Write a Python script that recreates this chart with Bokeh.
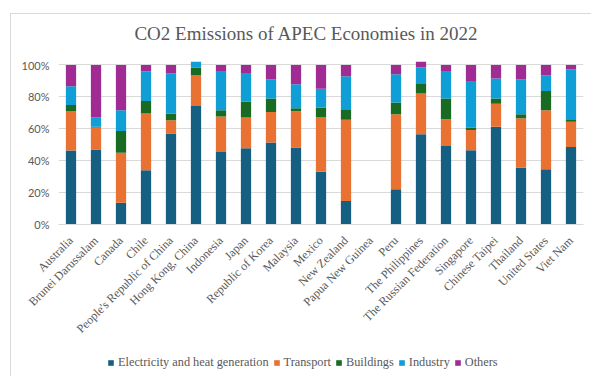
from bokeh.plotting import figure
from bokeh.models import (ColumnDataSource, FactorRange, Range1d, FixedTicker,
                          PrintfTickFormatter, Legend, LegendItem, Label)
from bokeh.layouts import column
from bokeh.embed import file_html
from bokeh.resources import INLINE
import math

categories = ["Australia", "Brunei Darussalam", "Canada", "Chile",
              "People's Republic of China", "Hong Kong, China", "Indonesia", "Japan",
              "Republic of Korea", "Malaysia", "Mexico", "New Zealand",
              "Papua New Guinea", "Peru", "The Philippines", "The Russian Federation",
              "Singapore", "Chinese Taipei", "Thailand", "United States", "Viet Nam"]

electricity = [46.3, 47.0, 13.7, 34.0, 57.0, 74.3, 45.5, 47.8, 51.3, 48.2, 33.1,
               14.7, 0.0, 22.1, 56.6, 49.2, 46.5, 61.3, 35.6, 34.6, 48.6]
transport = [24.8, 13.7, 31.3, 35.5, 8.3, 19.4, 22.1, 19.2, 19.2, 22.8, 34.3,
             51.0, 0.0, 47.0, 25.4, 16.8, 12.7, 14.4, 31.0, 37.0, 15.7]
buildings = [3.7, 0.6, 13.6, 7.9, 4.2, 4.6, 4.0, 10.0, 8.4, 1.9, 5.8,
             6.5, 0.0, 7.3, 6.5, 12.9, 1.5, 3.2, 2.5, 12.1, 1.7]
industry = [11.8, 5.9, 13.0, 18.4, 25.3, 3.7, 24.6, 17.5, 11.9, 15.0, 11.9,
            20.7, 0.0, 17.8, 9.8, 17.3, 28.8, 12.5, 21.9, 9.8, 31.3]
others = [13.4, 32.8, 28.4, 4.2, 5.2, 0.0, 3.8, 5.5, 9.2, 12.1, 14.9,
          7.1, 0.0, 5.8, 3.6, 3.8, 10.5, 8.6, 9.0, 6.5, 2.7]

series_names = ["Electricity and heat generation", "Transport", "Buildings", "Industry", "Others"]
series_keys = ["electricity", "transport", "buildings", "industry", "others"]
colors = ["#156082", "#E97132", "#196B24", "#0F9ED5", "#A02B93"]
y_ticks = [0, 20, 40, 60, 80, 100]
title_text = "CO2 Emissions of APEC Economies in 2022"

source = ColumnDataSource(dict(categories=categories, electricity=electricity,
                               transport=transport, buildings=buildings,
                               industry=industry, others=others))


def strip(height):
    f = figure(width=580, height=height, output_backend="svg", toolbar_location=None,
               x_axis_type=None, y_axis_type=None,
               x_range=Range1d(0, 1), y_range=Range1d(0, 1),
               min_border_left=47, min_border_right=8, min_border_top=0, min_border_bottom=0)
    f.outline_line_color = None
    f.xgrid.grid_line_color = None
    f.ygrid.grid_line_color = None
    f.background_fill_color = "white"
    f.border_fill_color = "white"
    return f


# title strip
tf = strip(44)
tf.add_layout(Label(x=248, y=25, x_units="screen", y_units="screen",
                    text=title_text, text_align="center", text_baseline="alphabetic",
                    text_font="Liberation Serif", text_font_size="19px",
                    text_color="#595959"))

# main chart
p = figure(width=580, height=287, output_backend="svg", toolbar_location=None,
           x_range=FactorRange(*categories, range_padding=0),
           y_range=Range1d(0, 104),
           min_border_left=47, min_border_right=8, min_border_top=0,
           min_border_bottom=121)

p.vbar_stack(series_keys, x="categories", width=0.41, color=colors,
             line_color=None, source=source)

p.outline_line_color = None
p.background_fill_color = "white"
p.border_fill_color = "white"

p.xgrid.grid_line_color = None
p.ygrid.grid_line_color = "#d9d9d9"
p.ygrid.grid_line_width = 1

p.yaxis.ticker = FixedTicker(ticks=y_ticks)
p.yaxis.formatter = PrintfTickFormatter(format="%d%%")
p.yaxis.axis_line_color = None
p.yaxis.major_tick_line_color = None
p.yaxis.minor_tick_line_color = None
p.yaxis.major_label_standoff = 3
p.yaxis.major_label_text_font = "Lato"
p.yaxis.major_label_text_font_size = "11px"
p.yaxis.major_label_text_color = "#595959"

p.xaxis.axis_line_color = "#d9d9d9"
p.xaxis.major_tick_line_color = None
p.xaxis.minor_tick_line_color = None
p.xaxis.major_label_orientation = math.pi / 4
p.xaxis.major_label_standoff = 8
p.xaxis.major_label_text_font = "Liberation Serif"
p.xaxis.major_label_text_font_size = "12px"
p.xaxis.major_label_text_color = "#595959"

# legend strip (the legend sits inside its own frame, so it is not clipped)
lf = strip(31)
legend_renderers = [lf.vbar(x=[-1], top=[0], width=0.1, color=c, line_color=None) for c in colors]
legend = Legend(items=[LegendItem(label=n, renderers=[r]) for n, r in zip(series_names, legend_renderers)],
                orientation="horizontal", location=(49, 6),
                glyph_width=7, glyph_height=7, label_height=7, label_width=7,
                label_standoff=4, spacing=4, padding=0, margin=0,
                border_line_color=None, background_fill_alpha=0,
                label_text_font="Liberation Serif", label_text_font_size="12.3px",
                label_text_color="#595959")
lf.add_layout(legend, "center")

layout = column(tf, p, lf, spacing=0)
layout.margin = (13, 0, 0, 10)
layout.styles = {"border-top": "1px solid #d9d9d9", "border-left": "1px solid #d9d9d9"}

open("out.html", "w").write(file_html(layout, INLINE))
